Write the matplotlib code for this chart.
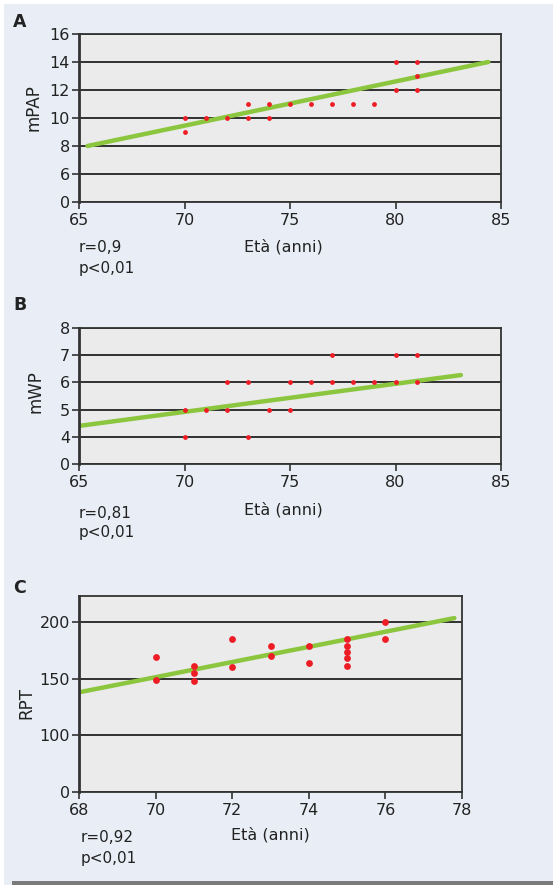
import numpy as np
import matplotlib.pyplot as plt
from matplotlib.patches import Rectangle

# Pannello A: mPAP vs età
a_eta = [70, 70, 71, 72, 73, 73, 74, 74, 75, 76, 77, 78, 79, 80, 80, 81, 81, 81]
a_mpap = [10, 9, 10, 10, 11, 10, 11, 10, 11, 11, 11, 11, 11, 14, 12, 14, 13, 12]
a_retta_x = [65.4, 84.4]
a_retta_y = [8.0, 14.0]
a_yticks = [0, 6, 8, 10, 12, 14, 16]

# Pannello B: mWP vs età
b_eta = [70, 70, 71, 72, 72, 73, 73, 74, 75, 75, 76, 77, 77, 78, 79, 80, 80, 81, 81]
b_mwp = [5, 4, 5, 6, 5, 6, 4, 5, 6, 5, 6, 7, 6, 6, 6, 7, 6, 7, 6]
b_retta_x = [65.0, 83.1]
b_retta_y = [4.4, 6.27]
b_yticks = [0, 4, 5, 6, 7, 8]

# Pannello C: RPT vs età
c_eta = [70, 70, 71, 71, 71, 72, 72, 73, 73, 74, 74, 75, 75, 75, 75, 75, 76, 76]
c_rpt = [169, 149, 161, 155, 148, 185, 160, 179, 170, 179, 164, 185, 179, 174, 168, 161, 200, 185]
c_retta_x = [68.0, 77.8]
c_retta_y = [138, 203.5]
c_yticks = [0, 100, 150, 200]

W, H = 553, 885
fig = plt.figure(figsize=(W / 100, H / 100), dpi=100)
fig.patch.set_facecolor('white')
fig.add_artist(Rectangle((4 / W, 0), 1, 1 - 4 / H, transform=fig.transFigure,
                         facecolor='#e9edf5', edgecolor='none', zorder=-10))
fig.add_artist(Rectangle((12 / W, 0), 1, 4 / H, transform=fig.transFigure,
                         facecolor='#7a7a7a', edgecolor='none', zorder=-5))


def scala_spezzata(ticks):
    # asse y a scala spezzata: i tick sono equidistanti
    pos = np.arange(len(ticks))

    def fwd(v):
        v = np.asarray(v, dtype=float)
        out = np.interp(v, ticks, pos)
        sl = (pos[-1] - pos[-2]) / (ticks[-1] - ticks[-2])
        return np.where(v > ticks[-1], pos[-1] + (v - ticks[-1]) * sl, out)

    def inv(p):
        p = np.asarray(p, dtype=float)
        out = np.interp(p, pos, ticks)
        sl = (ticks[-1] - ticks[-2]) / (pos[-1] - pos[-2])
        return np.where(p > pos[-1], ticks[-1] + (p - pos[-1]) * sl, out)

    return fwd, inv


def pannello(rect, x, y, rx, ry, xlim, xticks, yticks, ymax, ms):
    ax = fig.add_axes(rect)
    ax.set_facecolor('#ebebeb')
    ax.set_yscale('function', functions=scala_spezzata(yticks))
    ax.set_xlim(*xlim)
    ax.set_ylim(0, ymax)
    ax.set_xticks(xticks)
    ax.set_yticks(yticks)
    ax.yaxis.grid(True, color='#222222', lw=1.3)
    ax.set_axisbelow(True)
    for s in ax.spines.values():
        s.set_color('#333333')
        s.set_linewidth(1.3)
    ax.spines['left'].set_linewidth(2)
    ax.tick_params(axis='both', length=5, width=1.2, color='#333333',
                   labelsize=11.5, labelcolor='#222222', pad=1.5)
    ax.tick_params(axis='x', pad=3)
    ax.plot(rx, ry, color='#8cc63f', lw=3.2, solid_capstyle='round', zorder=2)
    ax.scatter(x, y, s=ms, color='#ee1c25', zorder=3, linewidths=0)
    return ax


pannello([79 / W, 1 - 202 / H, 422 / W, 168 / H], a_eta, a_mpap, a_retta_x, a_retta_y,
         (65, 85), [65, 70, 75, 80, 85], a_yticks, 16, 12)
pannello([79 / W, 1 - 464 / H, 422 / W, 136 / H], b_eta, b_mwp, b_retta_x, b_retta_y,
         (65, 85), [65, 70, 75, 80, 85], b_yticks, 8, 12)
pannello([79 / W, 1 - 792 / H, 383 / W, 196 / H], c_eta, c_rpt, c_retta_x, c_retta_y,
         (68, 78), [68, 70, 72, 74, 76, 78], c_yticks, 223, 24)


def testo(x, y, s, **kw):
    fig.text(x / W, 1 - y / H, s, color='#222222', **kw)


testi = [
    ('A', 22, 'mPAP', 33, 108, 283, 247, 'r=0,9', 79, 247, 268),
    ('B', 305, 'mWP', 35, 392, 283, 510, 'r=0,81', 79, 513, 533),
    ('C', 588, 'RPT', 26, 703, 270, 835, 'r=0,92', 81, 837, 858),
]
for lett, ly, yl, yx, yy, ex, ey, r, rx, ry, py in testi:
    testo(13, ly, lett, fontsize=12.5, fontweight='bold', va='center', ha='left')
    testo(yx, yy, yl, fontsize=12, rotation=90, va='center', ha='center')
    testo(ex, ey, 'Età (anni)', fontsize=11.5, va='center', ha='center')
    testo(rx, ry, r, fontsize=11, va='center', ha='left')
    testo(rx, py, 'p<0,01', fontsize=11, va='center', ha='left')

plt.savefig('out.png', dpi=100, facecolor=fig.get_facecolor())
